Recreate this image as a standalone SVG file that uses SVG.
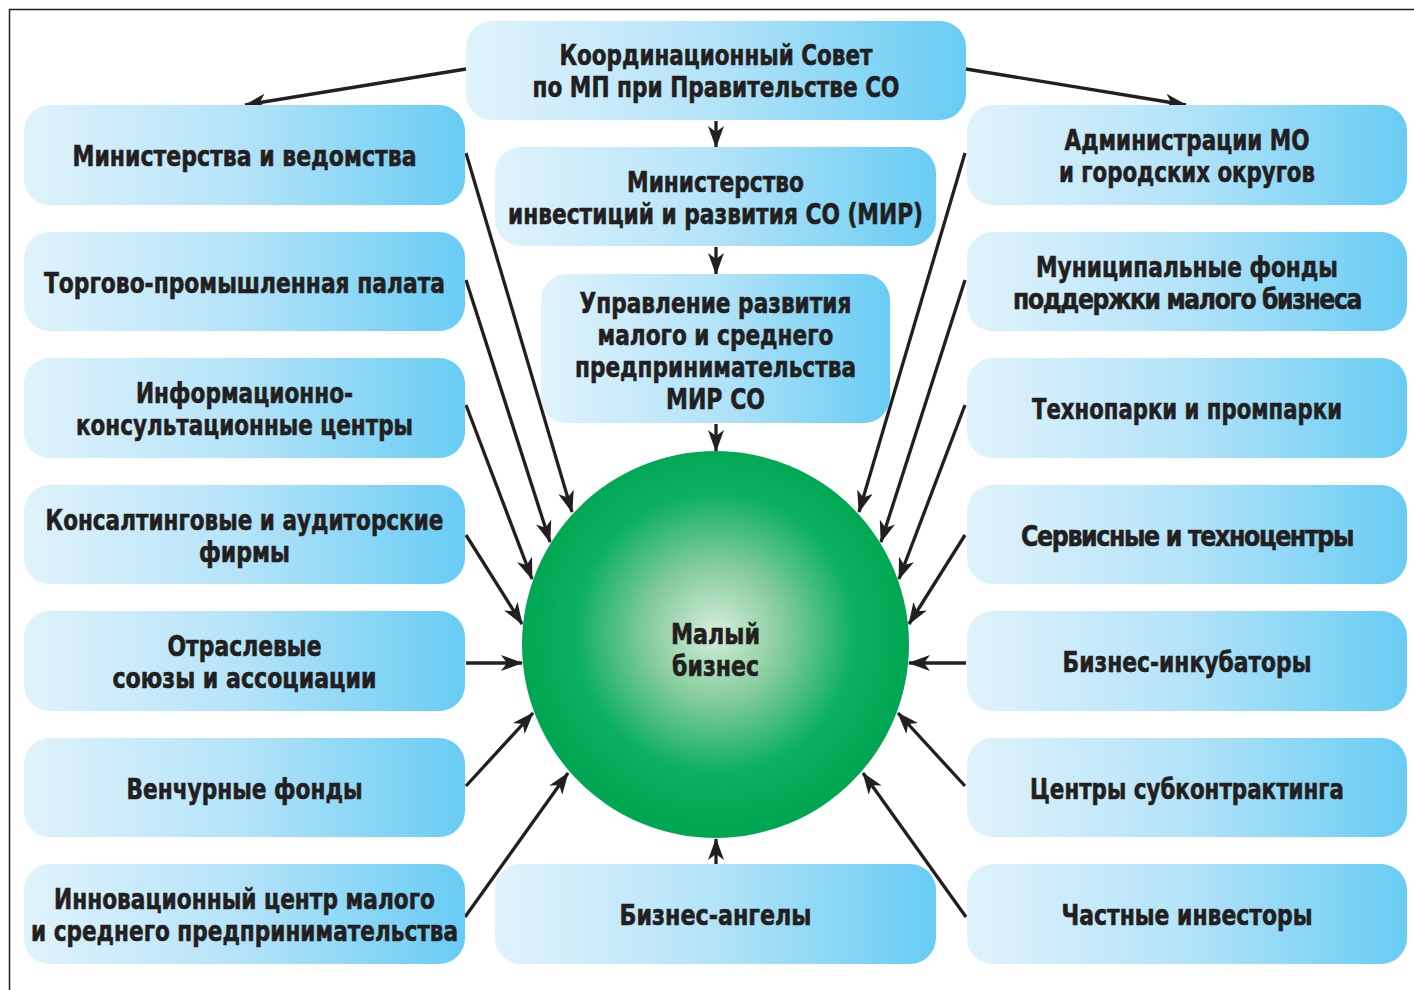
<svg xmlns="http://www.w3.org/2000/svg" width="1414" height="990" viewBox="0 0 1414 990">
<style>
.box{fill:url(#bg);}
.t{font-family:"DejaVu Sans Condensed","Liberation Sans Narrow","Roboto","Liberation Sans",sans-serif;font-weight:bold;font-size:29px;fill:#231f20;stroke:#231f20;stroke-width:0.6;text-anchor:middle;}
.tight{letter-spacing:-1.5px;}
.c line{stroke:#231f20;stroke-width:3.3;marker-end:url(#ah);}
.frame{stroke:#231f20;stroke-width:1.5;fill:none;}
</style>
<defs>
<linearGradient id="bg" x1="0" y1="0" x2="1" y2="0">
<stop offset="0" stop-color="#e0f3fc"/>
<stop offset="0.5" stop-color="#b3e3f8"/>
<stop offset="1" stop-color="#68ccf4"/>
</linearGradient>
<radialGradient id="cg" cx="0.5" cy="0.47" r="0.5">
<stop offset="0" stop-color="#d6eedc"/>
<stop offset="0.35" stop-color="#86cc9c"/>
<stop offset="0.72" stop-color="#0db061"/>
<stop offset="1" stop-color="#00a651"/>
</radialGradient>
<marker id="ah" viewBox="0 0 22 16" refX="21" refY="8" markerWidth="22" markerHeight="16" markerUnits="userSpaceOnUse" orient="auto">
<path d="M0,0 L22,8 L0,16 L6,8 Z" fill="#231f20"/>
</marker>
</defs>
<rect width="1414" height="990" fill="#ffffff"/>
<path class="frame" d="M9.5,990 V9.5 H1414"/>

<g class="c" id="connectors">
<line x1="466" y1="69" x2="245" y2="105"/>
<line x1="966" y1="69" x2="1186" y2="105"/>
<line x1="716" y1="121" x2="716" y2="147"/>
<line x1="716" y1="247" x2="716" y2="274"/>
<line x1="716" y1="424" x2="716" y2="451"/>
<line x1="716" y1="865" x2="716" y2="839"/>
<line x1="466" y1="153" x2="572" y2="512"/>
<line x1="466" y1="280" x2="550" y2="542"/>
<line x1="466" y1="405" x2="532" y2="579"/>
<line x1="466" y1="535" x2="522" y2="624"/>
<line x1="466" y1="663" x2="522" y2="663"/>
<line x1="466" y1="786" x2="533" y2="713"/>
<line x1="465" y1="917" x2="568" y2="773"/>
<line x1="965" y1="153" x2="859" y2="512"/>
<line x1="965" y1="280" x2="881" y2="542"/>
<line x1="965" y1="405" x2="899" y2="579"/>
<line x1="965" y1="535" x2="909" y2="624"/>
<line x1="966" y1="663" x2="909" y2="663"/>
<line x1="965" y1="786" x2="898" y2="713"/>
<line x1="966" y1="917" x2="863" y2="773"/>
</g>

<g id="n-center">
<circle cx="715.5" cy="644.5" r="193.5" fill="url(#cg)"/>
<text class="t" x="715.5" y="644" textLength="89" lengthAdjust="spacingAndGlyphs">Малый</text>
<text class="t" x="715.5" y="676" textLength="87" lengthAdjust="spacingAndGlyphs">бизнес</text>
</g>

<g id="n-koord">
<rect class="box" x="466" y="21" width="500" height="99" rx="26"/>
<text class="t" x="716" y="65" textLength="313" lengthAdjust="spacingAndGlyphs">Координационный Совет</text>
<text class="t" x="716" y="97" textLength="367" lengthAdjust="spacingAndGlyphs">по МП при Правительстве СО</text>
</g>
<g id="n-mir">
<rect class="box" x="495" y="147" width="441" height="99" rx="26"/>
<text class="t" x="715.5" y="192" textLength="177" lengthAdjust="spacingAndGlyphs">Министерство</text>
<text class="t" x="715.5" y="224" textLength="415" lengthAdjust="spacingAndGlyphs">инвестиций и развития СО (МИР)</text>
</g>
<g id="n-upr">
<rect class="box" x="541" y="274" width="349" height="149" rx="26"/>
<text class="t" x="715.5" y="313" textLength="272" lengthAdjust="spacingAndGlyphs">Управление развития</text>
<text class="t" x="715.5" y="345" textLength="236" lengthAdjust="spacingAndGlyphs">малого и среднего</text>
<text class="t" x="715.5" y="377" textLength="281" lengthAdjust="spacingAndGlyphs">предпринимательства</text>
<text class="t" x="715.5" y="409" textLength="99" lengthAdjust="spacingAndGlyphs">МИР СО</text>
</g>
<g id="n-angels">
<rect class="box" x="495" y="864" width="441" height="100" rx="26"/>
<text class="t" x="715.5" y="925" textLength="192" lengthAdjust="spacingAndGlyphs">Бизнес-ангелы</text>
</g>

<g id="n-l1">
<rect class="box" x="24" y="105" width="441" height="100" rx="26"/>
<text class="t" x="244.5" y="166" textLength="344" lengthAdjust="spacingAndGlyphs">Министерства и ведомства</text>
</g>
<g id="n-l2">
<rect class="box" x="24" y="232" width="441" height="99" rx="26"/>
<text class="t" x="244.5" y="293" textLength="401" lengthAdjust="spacingAndGlyphs">Торгово-промышленная палата</text>
</g>
<g id="n-l3">
<rect class="box" x="24" y="358" width="441" height="100" rx="26"/>
<text class="t" x="244.5" y="403" textLength="217" lengthAdjust="spacingAndGlyphs">Информационно-</text>
<text class="t" x="244.5" y="435" textLength="337" lengthAdjust="spacingAndGlyphs">консультационные центры</text>
</g>
<g id="n-l4">
<rect class="box" x="24" y="485" width="441" height="99" rx="26"/>
<text class="t" x="244.5" y="530" textLength="398" lengthAdjust="spacingAndGlyphs">Консалтинговые и аудиторские</text>
<text class="t" x="244.5" y="562" textLength="91" lengthAdjust="spacingAndGlyphs">фирмы</text>
</g>
<g id="n-l5">
<rect class="box" x="24" y="611" width="441" height="100" rx="26"/>
<text class="t" x="244.5" y="656" textLength="154" lengthAdjust="spacingAndGlyphs">Отраслевые</text>
<text class="t" x="244.5" y="688" textLength="264" lengthAdjust="spacingAndGlyphs">союзы и ассоциации</text>
</g>
<g id="n-l6">
<rect class="box" x="24" y="738" width="441" height="99" rx="26"/>
<text class="t" x="244.5" y="799" textLength="236" lengthAdjust="spacingAndGlyphs">Венчурные фонды</text>
</g>
<g id="n-l7">
<rect class="box" x="24" y="864" width="441" height="100" rx="26"/>
<text class="t" x="244.5" y="909" textLength="381" lengthAdjust="spacingAndGlyphs">Инновационный центр малого</text>
<text class="t" x="244.5" y="941" textLength="427" lengthAdjust="spacingAndGlyphs">и среднего предпринимательства</text>
</g>

<g id="n-r1">
<rect class="box" x="967" y="105" width="440" height="100" rx="26"/>
<text class="t" x="1187" y="150" textLength="245" lengthAdjust="spacingAndGlyphs">Администрации МО</text>
<text class="t" x="1187" y="182" textLength="256" lengthAdjust="spacingAndGlyphs">и городских округов</text>
</g>
<g id="n-r2">
<rect class="box" x="967" y="232" width="440" height="99" rx="26"/>
<text class="t" x="1187" y="277" textLength="302" lengthAdjust="spacingAndGlyphs">Муниципальные фонды</text>
<text class="t tight" x="1187" y="309" textLength="348" lengthAdjust="spacingAndGlyphs">поддержки малого бизнеса</text>
</g>
<g id="n-r3">
<rect class="box" x="967" y="358" width="440" height="100" rx="26"/>
<text class="t" x="1187" y="419" textLength="310" lengthAdjust="spacingAndGlyphs">Технопарки и промпарки</text>
</g>
<g id="n-r4">
<rect class="box" x="967" y="485" width="440" height="99" rx="26"/>
<text class="t tight" x="1187" y="546" textLength="332" lengthAdjust="spacingAndGlyphs">Сервисные и техноцентры</text>
</g>
<g id="n-r5">
<rect class="box" x="967" y="611" width="440" height="100" rx="26"/>
<text class="t" x="1187" y="672" textLength="249" lengthAdjust="spacingAndGlyphs">Бизнес-инкубаторы</text>
</g>
<g id="n-r6">
<rect class="box" x="967" y="738" width="440" height="99" rx="26"/>
<text class="t" x="1187" y="799" textLength="314" lengthAdjust="spacingAndGlyphs">Центры субконтрактинга</text>
</g>
<g id="n-r7">
<rect class="box" x="967" y="864" width="440" height="100" rx="26"/>
<text class="t" x="1187" y="925" textLength="251" lengthAdjust="spacingAndGlyphs">Частные инвесторы</text>
</g>
</svg>
